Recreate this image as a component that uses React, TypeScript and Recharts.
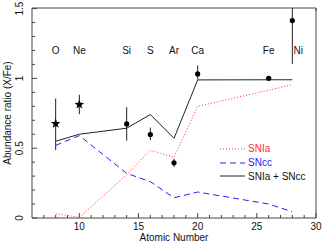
import { ComposedChart, ErrorBar, Line, Scatter, XAxis, YAxis } from "recharts";

const Z = [8, 10, 14, 16, 18, 20, 26, 28];
const SN_IA = [0.03, 0.005, 0.31, 0.485, 0.435, 0.8, 0.915, 0.955];
const SN_CC = [0.52, 0.59, 0.32, 0.26, 0.145, 0.186, 0.1, 0.045];
const SN_SUM = [0.55, 0.6, 0.643, 0.741, 0.571, 0.989, 0.99, 0.99];

const ELEMENTS = ["O", "Ne", "Si", "S", "Ar", "Ca", "Fe", "Ni"];
const OBS = [0.676, 0.813, 0.674, 0.598, 0.395, 1.032, 1.0, 1.414];
const ERR_LOW = [0.19, 0.07, 0.12, 0.04, 0.03, 0.04, 0.01, 0.31];
const ERR_HIGH = [0.18, 0.07, 0.12, 0.05, 0.03, 0.06, 0.01, 0.09];
const STARS = ["O", "Ne"];
const LABEL_Y = 1.2;

const X_TICKS = [7, 8, 9, 10, 11, 12, 13, 14, 15, 16, 17, 18, 19, 20, 21, 22, 23, 24, 25, 26, 27, 28, 29, 30];
const X_MAJOR = [10, 15, 20, 25, 30];
const Y_TICKS = [0, 0.1, 0.2, 0.3, 0.4, 0.5, 0.6, 0.7, 0.8, 0.9, 1, 1.1, 1.2, 1.3, 1.4, 1.5];
const Y_MAJOR = [0, 0.5, 1, 1.5];

const FONT = "'Liberation Sans', Arial, sans-serif";
const FRAME = "#444";

const models = Z.map((z, i) => ({ z, ia: SN_IA[i], cc: SN_CC[i], sum: SN_SUM[i] }));
const points = Z.map((z, i) => ({
  z,
  name: ELEMENTS[i],
  v: OBS[i],
  err: [ERR_LOW[i], ERR_HIGH[i]],
}));
const starPts = points.filter((p) => STARS.includes(p.name));
const dotPts = points.filter((p) => !STARS.includes(p.name));
const labels = Z.map((z, i) => ({ z, y: LABEL_Y, name: ELEMENTS[i] }));

const SERIES = [
  { key: "ia", label: "SNIa", color: "#ff3030", dash: "1 2" },
  { key: "cc", label: "SNcc", color: "#2020ff", dash: "6 4" },
  { key: "sum", label: "SNIa + SNcc", color: "#222", dash: undefined },
];

const isMajor = (list: number[], v: number) => list.some((m) => Math.abs(m - v) < 1e-6);

function BottomTick(p: any) {
  const major = isMajor(X_MAJOR, p.payload.value);
  return (
    <g>
      <line x1={p.x} x2={p.x} y1={p.y} y2={p.y - (major ? 5 : 3)} stroke={FRAME} />
      {major && (
        <text x={p.x} y={p.y + 12} textAnchor="middle" fontSize={10} fontFamily={FONT} fill="#111">
          {p.payload.value}
        </text>
      )}
    </g>
  );
}

function TopTick(p: any) {
  const major = isMajor(X_MAJOR, p.payload.value);
  return <line x1={p.x} x2={p.x} y1={p.y} y2={p.y + (major ? 5 : 3)} stroke={FRAME} />;
}

function LeftTick(p: any) {
  const major = isMajor(Y_MAJOR, p.payload.value);
  return (
    <g>
      <line x1={p.x} x2={p.x + (major ? 5 : 3)} y1={p.y} y2={p.y} stroke={FRAME} />
      {major && (
        <text
          x={p.x - 9}
          y={p.y}
          transform={`rotate(-90 ${p.x - 9} ${p.y})`}
          textAnchor="middle"
          fontSize={10}
          fontFamily={FONT}
          fill="#111"
        >
          {p.payload.value}
        </text>
      )}
    </g>
  );
}

function RightTick(p: any) {
  const major = isMajor(Y_MAJOR, p.payload.value);
  return <line x1={p.x} x2={p.x - (major ? 5 : 3)} y1={p.y} y2={p.y} stroke={FRAME} />;
}

function Dot(p: any) {
  return <circle cx={p.cx} cy={p.cy} r={2.6} fill="#000" />;
}

function Star(p: any) {
  const pts: string[] = [];
  for (let k = 0; k < 10; k++) {
    const r = k % 2 === 0 ? 5 : 2.1;
    const a = -Math.PI / 2 + (k * Math.PI) / 5;
    pts.push(`${p.cx + r * Math.cos(a)},${p.cy + r * Math.sin(a)}`);
  }
  return <polygon points={pts.join(" ")} fill="#000" />;
}

function ElementLabel(p: any) {
  const dx = p.payload.name === "Ni" ? 6 : 0;
  return (
    <text x={p.cx + dx} y={p.cy} dy={4} textAnchor="middle" fontSize={10} fontFamily={FONT} fill="#111">
      {p.payload.name}
    </text>
  );
}

function LegendBox() {
  return (
    <div style={{ position: "absolute", left: 220, top: 142, fontFamily: FONT, fontSize: 10, lineHeight: "13.8px" }}>
      {SERIES.map((s) => (
        <div key={s.key} style={{ display: "flex", alignItems: "center", height: 13.8 }}>
          <svg width={28} height={6}>
            <line x1={0} x2={25} y1={3} y2={3} stroke={s.color} strokeDasharray={s.dash} />
          </svg>
          <span style={{ color: s.key === "sum" ? "#111" : s.color }}>{s.label}</span>
        </div>
      ))}
    </div>
  );
}

export default function App() {
  return (
    <div style={{ position: "absolute", left: 0, top: 0, width: 322, height: 242 }}>
      <ComposedChart width={322} height={242} data={models} margin={{ top: 7, right: 5, bottom: 23, left: 31 }}>
        <XAxis
          xAxisId="b"
          dataKey="z"
          type="number"
          domain={[6, 30]}
          ticks={X_TICKS}
          interval={0}
          height={1}
          tickSize={0}
          tickMargin={0}
          tick={<BottomTick />}
          axisLine={{ stroke: FRAME }}
          label={{ value: "Atomic Number", position: "bottom", offset: 15, fontSize: 10, fontFamily: FONT, fill: "#111" }}
        />
        <XAxis
          xAxisId="t"
          orientation="top"
          type="number"
          domain={[6, 30]}
          ticks={X_TICKS}
          interval={0}
          height={1}
          tickSize={0}
          tickMargin={0}
          tick={<TopTick />}
          axisLine={{ stroke: FRAME }}
        />
        <YAxis
          yAxisId="l"
          type="number"
          domain={[0, 1.5]}
          ticks={Y_TICKS}
          interval={0}
          width={1}
          tickSize={0}
          tickMargin={0}
          tick={<LeftTick />}
          axisLine={{ stroke: FRAME }}
          label={{
            value: "Abundance ratio (X/Fe)",
            angle: -90,
            position: "left",
            offset: 24,
            fontSize: 10,
            fontFamily: FONT,
            fill: "#111",
            style: { textAnchor: "middle" },
          }}
        />
        <YAxis
          yAxisId="r"
          orientation="right"
          type="number"
          domain={[0, 1.5]}
          ticks={Y_TICKS}
          interval={0}
          width={1}
          tickSize={0}
          tickMargin={0}
          tick={<RightTick />}
          axisLine={{ stroke: FRAME }}
        />
        {SERIES.map((s) => (
          <Line
            key={s.key}
            xAxisId="b"
            yAxisId="l"
            dataKey={s.key}
            type="linear"
            stroke={s.color}
            strokeWidth={1}
            strokeDasharray={s.dash}
            dot={false}
            activeDot={false}
            isAnimationActive={false}
          />
        ))}
        <Scatter xAxisId="b" yAxisId="l" data={dotPts} dataKey="v" shape={<Dot />} isAnimationActive={false}>
          <ErrorBar dataKey="err" direction="y" width={0} stroke="#222" strokeWidth={1} isAnimationActive={false} />
        </Scatter>
        <Scatter xAxisId="b" yAxisId="l" data={starPts} dataKey="v" shape={<Star />} isAnimationActive={false}>
          <ErrorBar dataKey="err" direction="y" width={0} stroke="#222" strokeWidth={1} isAnimationActive={false} />
        </Scatter>
        <Scatter xAxisId="b" yAxisId="l" data={labels} dataKey="y" shape={<ElementLabel />} isAnimationActive={false} />
      </ComposedChart>
      <LegendBox />
    </div>
  );
}
